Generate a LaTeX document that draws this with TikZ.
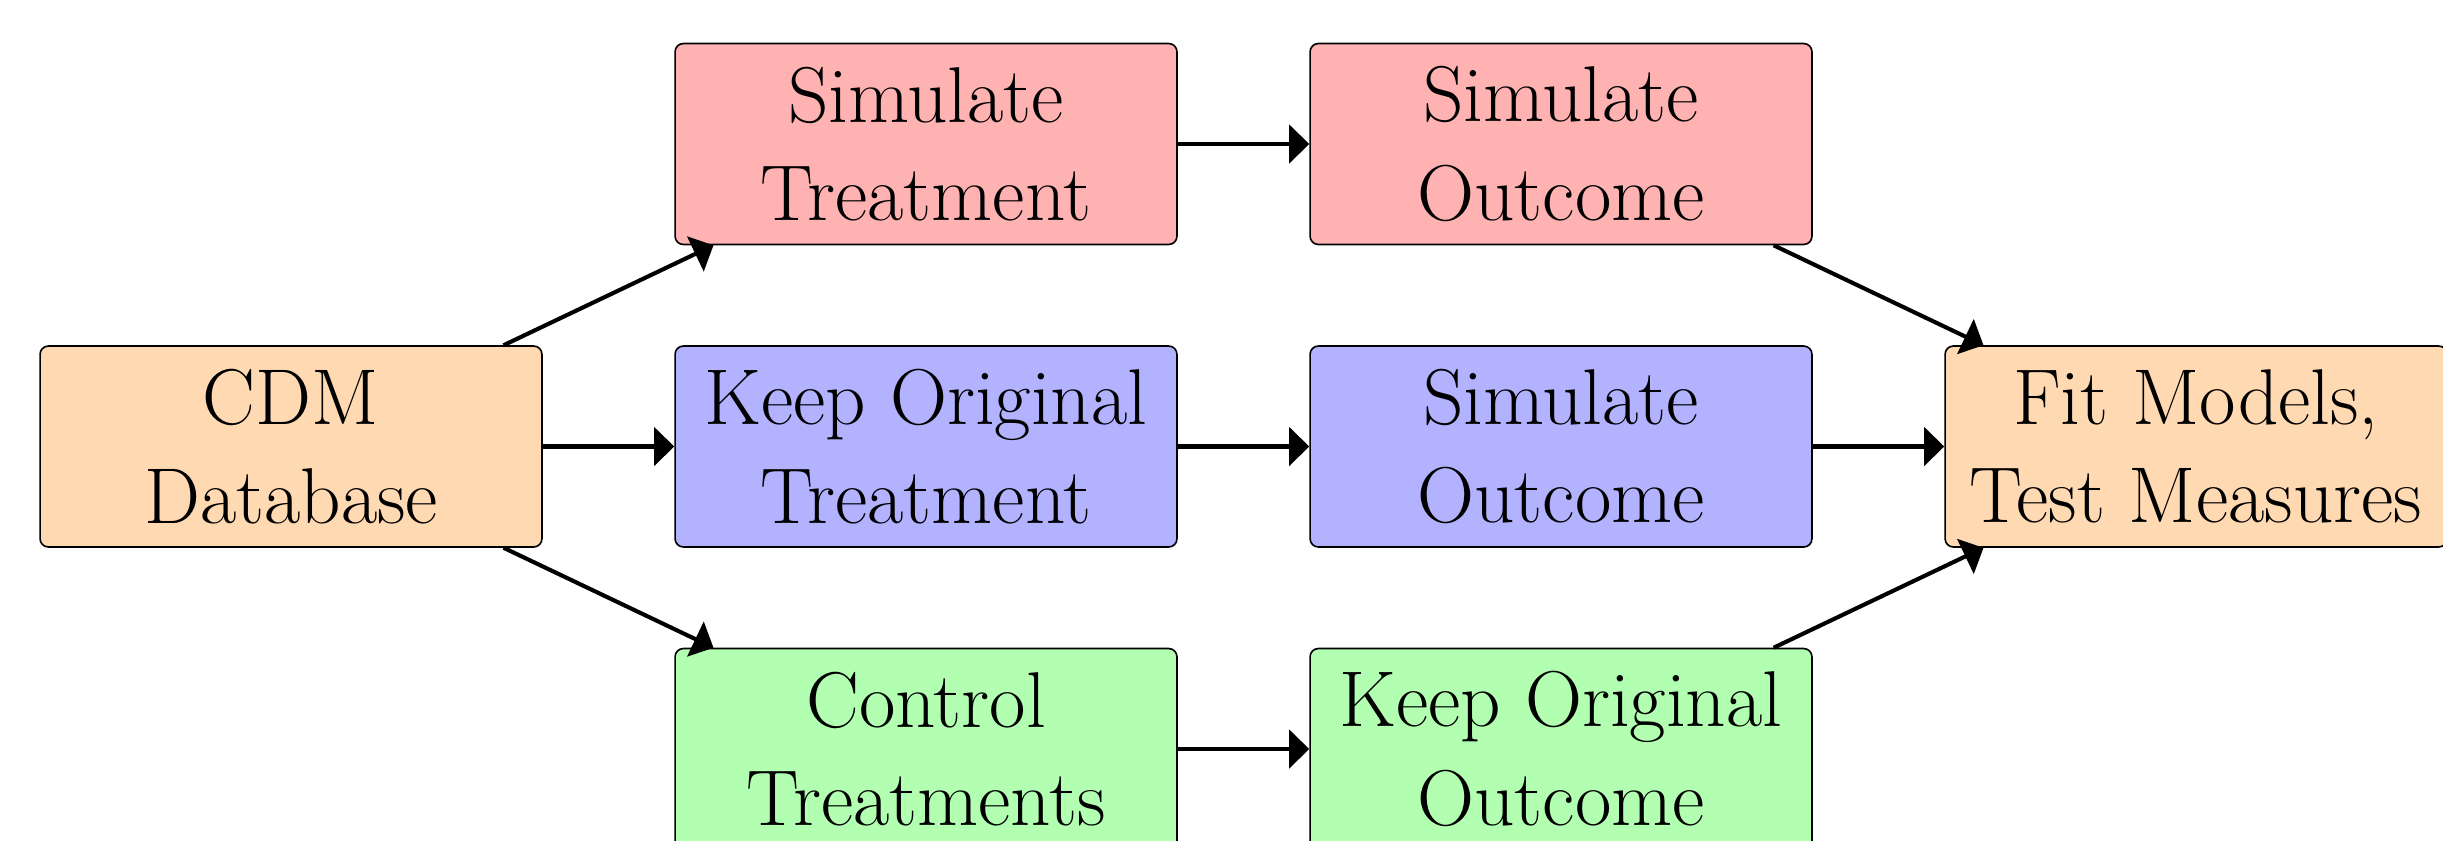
\documentclass[tikz,border=0pt]{standalone}
\usetikzlibrary{arrows.meta}
\definecolor{cpink}{rgb}{1,0.7,0.7}
\definecolor{cblue}{rgb}{0.7,0.7,1}
\definecolor{cgreen}{rgb}{0.7,1,0.7}
\definecolor{corange}{rgb}{1,0.85,0.7}
\tikzset{
  box/.style={draw=black, line width=0.4pt, rounded corners=2pt,
    minimum width=122.4pt, minimum height=49pt, inner sep=0pt,
    align=center, font=\fontsize{19.3}{24}\selectfont},
  flow/.style={line width=1pt, -{Triangle[length=4.9pt,width=9.3pt]}}
}
\begin{document}
\begin{tikzpicture}[x=0.2439pt, y=-0.2439pt]
\useasboundingbox (0,0) rectangle (2443,840);
\node[box, fill=corange] (cdm) at (291,446.5) {CDM\\Database};
\node[box, fill=cpink] (st) at (926,144) {Simulate\\Treatment};
\node[box, fill=cpink] (so1) at (1561,144) {Simulate\\Outcome};
\node[box, fill=cblue] (kt) at (926,446.5) {Keep Original\\Treatment};
\node[box, fill=cblue] (so2) at (1561,446.5) {Simulate\\Outcome};
\node[box, fill=cgreen] (ct) at (926,749) {Control\\Treatments};
\node[box, fill=cgreen] (ko) at (1561,749) {Keep Original\\Outcome};
\node[box, fill=corange] (fit) at (2196,446.5) {Fit Models,\\Test Measures};
\draw[flow] (cdm) -- (st);
\draw[flow] (cdm) -- (kt);
\draw[flow] (cdm) -- (ct);
\draw[flow] (st) -- (so1);
\draw[flow] (kt) -- (so2);
\draw[flow] (ct) -- (ko);
\draw[flow] (so1) -- (fit);
\draw[flow] (so2) -- (fit);
\draw[flow] (ko) -- (fit);
\end{tikzpicture}
\end{document}
